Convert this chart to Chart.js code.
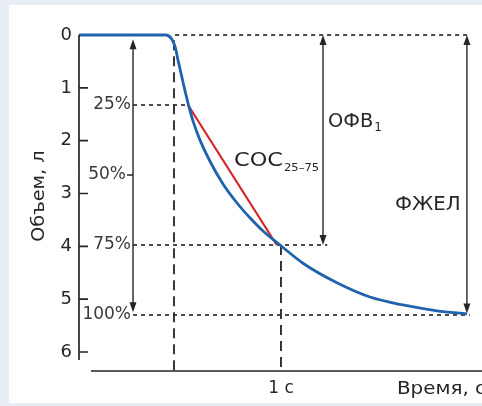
<!DOCTYPE html>
<html>
<head>
<meta charset="utf-8">
<script src="https://cdn.jsdelivr.net/npm/chart.js@4/dist/chart.umd.min.js"></script>
<style>
    html, body { margin: 0; padding: 0; background: #e7ecf5; }
    canvas { display: block; }
</style>
</head>
<body>
<canvas id="spiro" width="482" height="406"></canvas>
<script>
// время, с (0 = начало форсированного выдоха) и объем, л
const timeSec = [-0.888, -0.075, -0.028, 0.009, 0.037, 0.084, 0.131, 0.178, 0.243, 0.336, 0.458, 0.589, 0.710, 0.832, 0.991, 1.206, 1.523, 1.832, 2.140, 2.458, 2.738];
const volumeL = [0, 0, 0.06, 0.21, 0.47, 0.89, 1.29, 1.63, 1.99, 2.39, 2.82, 3.18, 3.46, 3.71, 3.975, 4.32, 4.69, 4.96, 5.11, 5.22, 5.28];

// СОС 25-75: прямая между точками 25% и 75% ФЖЕЛ
const cocTime = [0.131, 0.96];
const cocVolume = [1.325, 3.975];

const fvc = 5.3;
const fev1 = 3.975;
const percentLabels = ['25%', '50%', '75%', '100%'];
const percentShare = [0.25, 0.5, 0.75, 1];

const volumeTicks = [0, 1, 2, 3, 4, 5, 6];
const timeTicks = [1];
const timeTickLabels = ['1 с'];
const xTitle = 'Время, с';
const yTitle = 'Объем, л';

// где стоят стрелки и конец пунктиров (по времени)
const scaleArrowT = -0.383;
const fev1ArrowT = 1.393;
const fvcArrowT = 2.738;
const guideEndT = 2.766;

const FONT = 'DejaVu Sans';
const INK = '#262626';

function guide(xs, ys, dash, width) {
    return {
        data: xs.map((x, i) => ({ x: x, y: ys[i] })),
        borderColor: '#2e2e2e',
        borderWidth: width,
        borderDash: dash,
        pointRadius: 0,
        tension: 0,
        clip: false,
        fill: false
    };
}

const dot = [4, 4];
const dash = [10, 6];

const datasets = [
    {
        data: timeSec.map((t, i) => ({ x: t, y: volumeL[i] })),
        borderColor: '#1f63ae',
        borderWidth: 2.8,
        pointRadius: 0,
        cubicInterpolationMode: 'monotone',
        clip: false,
        fill: false
    },
    {
        data: cocTime.map((t, i) => ({ x: t, y: cocVolume[i] })),
        borderColor: '#d3262c',
        borderWidth: 2.2,
        pointRadius: 0,
        clip: false,
        fill: false
    },
    guide([0.01, guideEndT], [0, 0], dot, 1.7),
    guide([scaleArrowT, cocTime[0]], [fvc * 0.25, fvc * 0.25], dot, 1.7),
    guide([scaleArrowT, fev1ArrowT + 0.04], [fev1, fev1], dot, 1.7),
    guide([scaleArrowT, guideEndT], [fvc, fvc], dot, 1.7),
    guide([0, 0], [0.1, 6.36], dash, 1.9),
    guide([1, 1], [fev1, 6.36], dash, 1.9)
];

function arrow(c, x, y1, y2) {
    c.beginPath();
    c.moveTo(x, y1 + 4);
    c.lineTo(x, y2 - 4);
    c.stroke();
    c.beginPath();
    c.moveTo(x, y1);
    c.lineTo(x - 3.5, y1 + 10);
    c.lineTo(x + 3.5, y1 + 10);
    c.closePath();
    c.fill();
    c.beginPath();
    c.moveTo(x, y2);
    c.lineTo(x - 3.5, y2 - 10);
    c.lineTo(x + 3.5, y2 - 10);
    c.closePath();
    c.fill();
}

// текст, растянутый по горизонтали (в оригинале шрифт шире)
function wideText(c, s, x, y, size, k) {
    c.save();
    c.font = size + 'px "' + FONT + '"';
    c.translate(x, y);
    c.scale(k, 1);
    c.fillText(s, 0, 0);
    const w = c.measureText(s).width * k;
    c.restore();
    return w;
}

const extras = {
    id: 'extras',
    beforeDraw(chart) {
        const c = chart.ctx;
        c.save();
        c.fillStyle = '#e7ecf5';
        c.fillRect(0, 0, chart.width, chart.height);
        c.fillStyle = '#ffffff';
        c.fillRect(9, 5, chart.width - 9, chart.height - 8);
        c.restore();
    },
    afterDatasetsDraw(chart) {
        const c = chart.ctx;
        const x = chart.scales.x;
        const y = chart.scales.y;
        const px = t => x.getPixelForValue(t);
        const py = v => y.getPixelForValue(v);

        c.save();
        c.strokeStyle = INK;
        c.fillStyle = INK;
        c.lineWidth = 1.7;

        // оси
        c.beginPath();
        c.moveTo(px(x.min), py(0));
        c.lineTo(px(x.min), py(6.15));
        c.moveTo(px(-0.776), py(y.max));
        c.lineTo(px(x.max), py(y.max));
        volumeTicks.slice(1).forEach(v => {
            c.moveTo(px(x.min), py(v));
            c.lineTo(px(x.min) + 9, py(v));
        });
        // короткая черточка у 50%
        c.moveTo(px(scaleArrowT) - 6, py(fvc * 0.5));
        c.lineTo(px(scaleArrowT), py(fvc * 0.5));
        c.stroke();

        // стрелки
        c.lineWidth = 1.4;
        arrow(c, px(scaleArrowT), py(0.08), py(fvc - 0.05));
        arrow(c, px(fev1ArrowT), py(0), py(fev1));
        arrow(c, px(fvcArrowT), py(0), py(fvc - 0.03));

        // подписи процентов
        c.fillStyle = '#3a3a3a';
        c.textAlign = 'right';
        c.textBaseline = 'middle';
        percentLabels.forEach((lab, i) => {
            const off = percentShare[i] === 0.5 ? 7 : 2;
            wideText(c, lab, px(scaleArrowT) - off, py(fvc * percentShare[i]), 17, 1.0);
        });

        c.fillStyle = INK;
        c.textAlign = 'left';
        let w = wideText(c, 'ОФВ', px(1.44), py(1.65), 19, 1.02);
        wideText(c, '1', px(1.44) + w + 1, py(1.65) + 6, 12, 1);
        w = wideText(c, 'СОС', px(0.561), py(2.385), 19, 1.18);
        wideText(c, '25–75', px(0.561) + w + 1, py(2.385) + 7, 11, 1.05);
        wideText(c, 'ФЖЕЛ', px(2.065), py(3.22), 19, 1.04);

        wideText(c, xTitle, px(2.084), py(y.max) + 19, 17, 1.17);

        c.translate(40, py(3.05));
        c.rotate(-Math.PI / 2);
        c.textAlign = 'center';
        wideText(c, yTitle, 0, 0, 17, 1.13);
        c.restore();
    }
};

new Chart(document.getElementById('spiro').getContext('2d'), {
    type: 'line',
    data: { datasets: datasets },
    options: {
        responsive: false,
        animation: false,
        events: [],
        layout: { padding: { top: 35, left: 0, right: 0, bottom: 0 } },
        plugins: { legend: { display: false }, tooltip: { enabled: false } },
        scales: {
            x: {
                type: 'linear',
                min: -0.888,
                max: 2.879,
                grid: { display: false, drawTicks: false },
                border: { display: false },
                afterFit: s => { s.height = 35; },
                afterBuildTicks: s => { s.ticks = timeTicks.map(v => ({ value: v })); },
                ticks: {
                    autoSkip: false,
                    maxRotation: 0,
                    padding: 7,
                    color: INK,
                    font: { family: FONT, size: 17 },
                    callback: (v, i) => timeTickLabels[i]
                }
            },
            y: {
                type: 'linear',
                reverse: true,
                min: 0,
                max: 6.36,
                grid: { display: false, drawTicks: false },
                border: { display: false },
                afterFit: s => { s.width = 79; },
                afterBuildTicks: s => { s.ticks = volumeTicks.map(v => ({ value: v })); },
                ticks: {
                    padding: 7,
                    color: INK,
                    font: { family: FONT, size: 18 },
                    callback: v => String(v)
                }
            }
        }
    },
    plugins: [extras]
});
</script>
</body>
</html>
